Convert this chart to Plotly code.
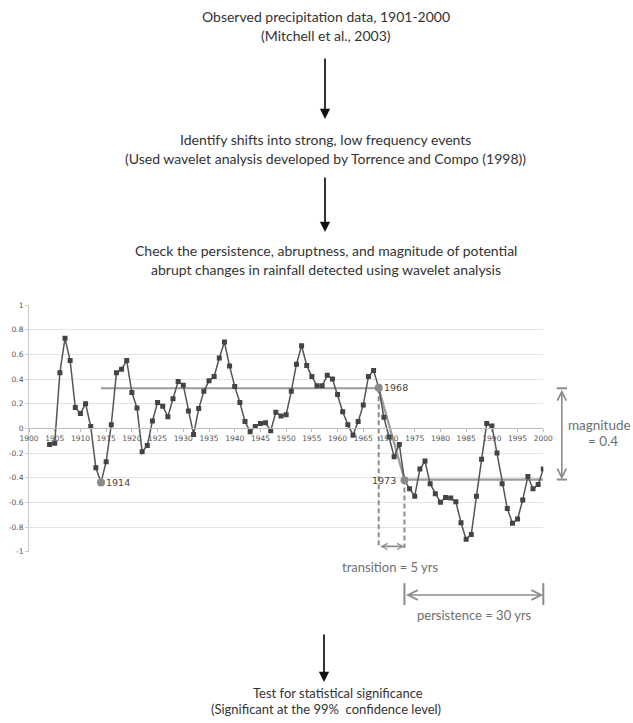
import plotly.graph_objects as go

# ---------------- data ----------------
years = list(range(1904, 2001))
precip_anomaly = [
    -0.13, -0.12, 0.45, 0.73, 0.55, 0.17, 0.12, 0.20, 0.015, -0.32,   # 1904-1913
    -0.44, -0.27, 0.03, 0.45, 0.48, 0.55, 0.29, 0.165, -0.19, -0.14,  # 1914-1923
    0.06, 0.21, 0.18, 0.095, 0.24, 0.38, 0.35, 0.14, -0.05, 0.16,     # 1924-1933
    0.30, 0.385, 0.42, 0.57, 0.70, 0.505, 0.34, 0.21, 0.055, -0.027,  # 1934-1943
    0.015, 0.04, 0.045, -0.02, 0.13, 0.10, 0.11, 0.30, 0.52, 0.67,    # 1944-1953
    0.51, 0.42, 0.345, 0.345, 0.43, 0.40, 0.275, 0.135, 0.03, -0.055, # 1954-1963
    0.055, 0.19, 0.42, 0.47, 0.33, 0.09, -0.07, -0.23, -0.13, -0.42,  # 1964-1973
    -0.49, -0.55, -0.33, -0.265, -0.45, -0.53, -0.60, -0.56, -0.565, -0.595,  # 1974-1983
    -0.765, -0.90, -0.86, -0.55, -0.25, 0.04, 0.02, -0.20, -0.45, -0.65,      # 1984-1993
    -0.77, -0.735, -0.58, -0.39, -0.49, -0.455, -0.33,                        # 1994-2000
]

x_ticks = list(range(1900, 2001, 5))
x_tick_labels = [str(v) for v in x_ticks]
y_ticks = [-1, -0.8, -0.6, -0.4, -0.2, 0, 0.2, 0.4, 0.6, 0.8, 1]
y_tick_labels = ["-1", "-0.8", "-0.6", "-0.4", "-0.2", "0", "0.2", "0.4", "0.6", "0.8", "1"]

level_years = [1914, 1968, 1973, 2000]
level_values = [0.325, 0.325, -0.415, -0.415]
marked_years = [1914, 1968, 1973]
marked_labels = ["1914", "1968", "1973"]
shift_start, shift_end, series_end = 1968, 1973, 2000
before_level, after_level = 0.325, -0.415

flow_lines_1 = ["Observed precipitation data, 1901-2000", "(Mitchell et al., 2003)"]
flow_lines_2 = ["Identify shifts into strong, low frequency events",
                "(Used wavelet analysis developed by Torrence and Compo (1998))"]
flow_lines_3 = ["Check the persistence, abruptness, and magnitude of potential",
                "abrupt changes in rainfall detected using wavelet analysis"]
flow_lines_4 = ["Test for statistical significance",
                "(Significant at the 99%  confidence level)"]

# ---------------- layout geometry (pixels) ----------------
W, H = 633, 723
PL, PR, PT, PB = 29, 543.3, 305, 551.7
XR, YR = [1900, 2000], [-1, 1]
xdom = [PL / W, PR / W]
ydom = [(H - PB) / H, (H - PT) / H]
kx = (XR[1] - XR[0]) / (PR - PL)
ky = (YR[1] - YR[0]) / (PB - PT)
x2range = [XR[0] - PL * kx, XR[0] + (W - PL) * kx]
y2range = [YR[0] - (H - PB) * ky, YR[1] + PT * ky]
zero_pos = ydom[0] + (0 - YR[0]) / (YR[1] - YR[0]) * (ydom[1] - ydom[0])

GUIDE = "#8c8c8c"
TXT = "#707070"
FONT = "Lato"

fig = go.Figure()

# level (step) line
fig.add_trace(go.Scatter(x=level_years, y=level_values, mode="lines",
                         line=dict(color="#9a9a9a", width=2.2), hoverinfo="skip"))
# dashed guides
guide_bottom = -0.97
fig.add_trace(go.Scatter(x=[shift_start, shift_start], y=[before_level, guide_bottom], mode="lines",
                         line=dict(color=GUIDE, width=2, dash="5px,3px"), hoverinfo="skip"))
fig.add_trace(go.Scatter(x=[shift_end, shift_end], y=[after_level, guide_bottom], mode="lines",
                         line=dict(color=GUIDE, width=2, dash="5px,3px"), hoverinfo="skip"))
# data series
fig.add_trace(go.Scatter(x=years, y=precip_anomaly, mode="lines+markers",
                         line=dict(color="#555555", width=1.5),
                         marker=dict(symbol="square", size=5, color="#444444")))
# marked points
marked_values = [precip_anomaly[years.index(y)] for y in marked_years]
fig.add_trace(go.Scatter(x=marked_years, y=marked_values, mode="markers",
                         marker=dict(symbol="circle", size=8, color="#8a8a8a")))

# auxiliary lines on full-figure overlay axes
MAG_X = 2003.6
cap = 1.0
aux = dict(mode="lines", line=dict(color=GUIDE, width=2), xaxis="x2", yaxis="y2", hoverinfo="skip")
fig.add_trace(go.Scatter(x=[MAG_X - cap, MAG_X + cap], y=[before_level, before_level], **aux))
fig.add_trace(go.Scatter(x=[MAG_X - cap, MAG_X + cap], y=[after_level, after_level], **aux))
bar_top, bar_bot = -1.255, -1.433
fig.add_trace(go.Scatter(x=[shift_end, shift_end], y=[bar_top, bar_bot], **aux))
fig.add_trace(go.Scatter(x=[series_end, series_end], y=[bar_top, bar_bot], **aux))

annotations = []

def arrow2(x0, y0, x1, y1, size=1.1, width=1.6):
    annotations.append(dict(x=x1, y=y1, ax=x0, ay=y0, xref="x2", yref="y2", axref="x2", ayref="y2",
                            text="", showarrow=True, arrowhead=5, startarrowhead=5,
                            arrowside="end+start", arrowsize=size, startarrowsize=size,
                            arrowwidth=width, arrowcolor=GUIDE, standoff=0, startstandoff=0))

arrow2(shift_start, -0.957, shift_end, -0.957, size=0.75)
arrow2(shift_end, -1.351, series_end, -1.351, size=1.2)
arrow2(MAG_X, before_level, MAG_X, after_level, size=1.1)

def dtext(x, y, s, size=13):
    annotations.append(dict(x=x, y=y, xref="x2", yref="y2", text=s, showarrow=False,
                            font=dict(family=FONT, size=size, color=TXT)))

dtext(1970.2, -1.125, "transition = 5 yrs")
dtext(1986.7, -1.515, "persistence = 30 yrs")
dtext(2011.0, 0.03, "magnitude", size=13.5)
dtext(2011.6, -0.10, "= 0.4", size=13.5)

# point labels
label_pos = [("left", 3), ("left", 3), ("right", -6)]
for yr_, lab, (anc, sh) in zip(marked_years, marked_labels, label_pos):
    annotations.append(dict(x=yr_, y=precip_anomaly[years.index(yr_)], xref="x", yref="y",
                            text=lab, showarrow=False, xanchor=anc, xshift=sh,
                            font=dict(family="DejaVu Sans", size=9.5, color="#444444")))

# flow text
def ptext(cx, py, s, size=14):
    annotations.append(dict(x=cx / W, y=1 - py / H, xref="paper", yref="paper", text=s,
                            showarrow=False, xanchor="center", yanchor="middle",
                            font=dict(family=FONT, size=size, color="#333333")))

ptext(325.5, 16.7, flow_lines_1[0])
ptext(326, 35, flow_lines_1[1])
ptext(326, 140, flow_lines_2[0])
ptext(326, 158.3, flow_lines_2[1])
ptext(326, 250.7, flow_lines_3[0])
ptext(326, 269.3, flow_lines_3[1])
ptext(338, 693, flow_lines_4[0], size=13)
ptext(326, 708.5, flow_lines_4[1], size=13)

def parrow(cx, y_tail, y_tip):
    annotations.append(dict(x=cx / W, y=1 - y_tip / H, xref="paper", yref="paper",
                            ax=0, ay=-(y_tip - y_tail), text="", showarrow=True,
                            arrowhead=2, arrowsize=1.2, arrowwidth=1.7, arrowcolor="#111111",
                            standoff=0))

parrow(325, 57, 119)
parrow(325, 176, 232)
parrow(324, 633, 682)

axis_font = dict(family="DejaVu Sans", size=7.5, color="#555555")
fig.update_layout(
    width=W, height=H,
    margin=dict(l=0, r=0, t=0, b=0, pad=0, autoexpand=False),
    paper_bgcolor="white", plot_bgcolor="rgba(0,0,0,0)",
    showlegend=False,
    xaxis=dict(domain=xdom, range=XR, anchor="free", position=zero_pos, automargin=False,
               tickmode="array", tickvals=x_ticks, ticktext=x_tick_labels,
               ticks="outside", ticklen=3, tickcolor="#bbbbbb",
               showline=True, linecolor="#bbbbbb", linewidth=1,
               showgrid=False, zeroline=False, tickfont=axis_font),
    yaxis=dict(domain=ydom, range=YR, anchor="x", automargin=False,
               tickmode="array", tickvals=y_ticks, ticktext=y_tick_labels,
               ticks="outside", ticklen=3, tickcolor="#cccccc",
               showline=True, linecolor="#cccccc", linewidth=1,
               showgrid=True, gridcolor="#e4e4e4", gridwidth=1,
               zeroline=False, tickfont=axis_font),
    xaxis2=dict(domain=[0, 1], range=x2range, anchor="y2", visible=False, automargin=False),
    yaxis2=dict(domain=[0, 1], range=y2range, anchor="x2", visible=False, automargin=False),
    annotations=annotations,
)

fig.write_html("out.html", config={"displayModeBar": False},
               post_script="document.body.style.margin='0px';document.body.style.overflow='hidden';")
